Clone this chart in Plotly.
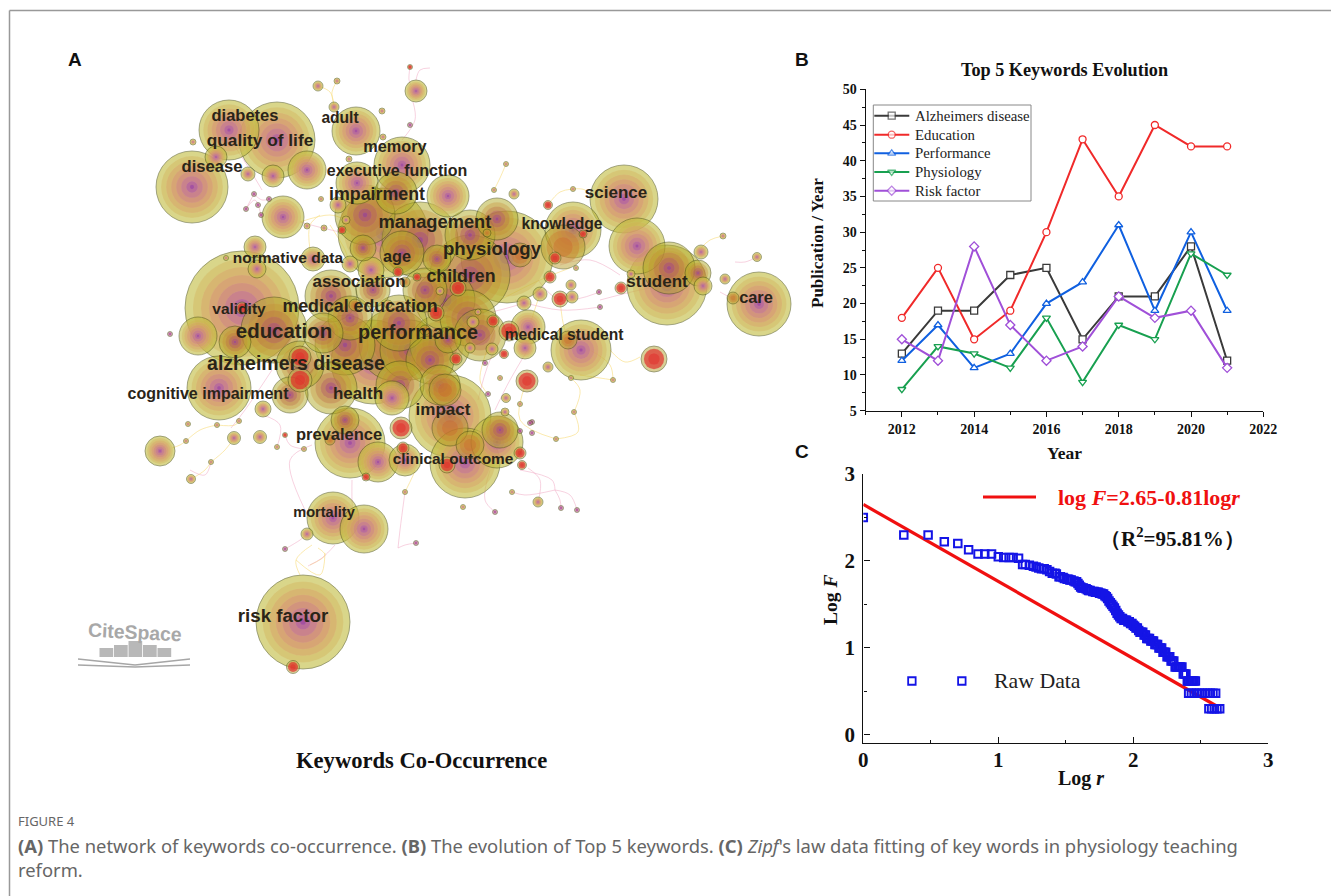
import numpy as np
import plotly.graph_objects as go

W, H = 1331, 896
SERIF = "Liberation Serif"
SANS = "Liberation Sans"

# ---------- Panel B data ----------
years = [2012, 2013, 2014, 2015, 2016, 2017, 2018, 2019, 2020, 2021]
alzheimers = [13, 19, 19, 24, 25, 15, 21, 21, 28, 12]
education = [18, 25, 15, 19, 30, 43, 35, 45, 42, 42]
performance = [12, 17, 11, 13, 20, 23, 31, 19, 30, 19]
physiology = [8, 14, 13, 11, 18, 9, 17, 15, 27, 24]
risk_factor = [15, 12, 28, 17, 12, 14, 21, 18, 19, 11]

# ---------- Panel C data ----------
log_r = [0, 0.30, 0.48, 0.60, 0.70, 0.78, 0.85, 0.90, 0.95, 1.00, 1.04, 1.08, 1.11, 1.15, 1.18, 1.20, 1.23,
         1.26, 1.28, 1.30, 1.32, 1.34, 1.36, 1.38, 1.40, 1.42, 1.43, 1.45, 1.46, 1.48, 1.49, 1.51, 1.52, 1.53,
         1.54, 1.56, 1.57, 1.58, 1.59, 1.60, 1.61, 1.62, 1.63, 1.65, 1.66, 1.67, 1.68, 1.70, 1.71, 1.72, 1.73,
         1.74, 1.75, 1.76, 1.77, 1.78, 1.79, 1.80, 1.81, 1.82, 1.83, 1.84, 1.85, 1.86, 1.87, 1.88, 1.89, 1.90,
         1.91, 1.92, 1.93, 1.94, 1.95, 1.96, 1.97, 1.98, 1.99, 2.00, 2.01, 2.02, 2.03, 2.04, 2.05, 2.06, 2.07,
         2.08, 2.09, 2.10, 2.11, 2.12, 2.13, 2.14, 2.15, 2.16, 2.17, 2.18, 2.19, 2.20, 2.21, 2.22, 2.23, 2.24,
         2.25, 2.26, 2.27, 2.28, 2.29, 2.30, 2.31, 2.32, 2.33, 2.34, 2.35, 2.36, 2.37, 2.38, 2.39, 2.40, 2.41,
         2.42, 2.43, 2.44, 2.45, 2.46, 2.41, 2.43, 2.45, 2.47, 2.49, 2.51, 2.53, 2.55, 2.57, 2.59, 2.61, 2.56,
         2.58, 2.60, 2.62, 2.64]
log_f = [2.50, 2.30, 2.30, 2.22, 2.20, 2.13, 2.08, 2.08, 2.08, 2.05, 2.04, 2.04, 2.04, 2.03, 1.96, 1.96, 1.95,
         1.94, 1.93, 1.92, 1.91, 1.91, 1.90, 1.88, 1.86, 1.86, 1.85, 1.82, 1.82, 1.81, 1.80, 1.79, 1.79, 1.78,
         1.78, 1.77, 1.76, 1.76, 1.74, 1.72, 1.70, 1.69, 1.69, 1.68, 1.67, 1.66, 1.66, 1.65, 1.65, 1.64, 1.64,
         1.64, 1.63, 1.63, 1.62, 1.62, 1.60, 1.59, 1.57, 1.54, 1.52, 1.50, 1.48, 1.46, 1.43, 1.40, 1.38, 1.36,
         1.34, 1.34, 1.32, 1.32, 1.32, 1.30, 1.30, 1.28, 1.28, 1.26, 1.25, 1.23, 1.23, 1.20, 1.18, 1.18, 1.18,
         1.15, 1.15, 1.11, 1.11, 1.11, 1.08, 1.08, 1.08, 1.04, 1.04, 1.04, 1.00, 1.00, 1.00, 0.95, 0.95, 0.95,
         0.90, 0.90, 0.90, 0.85, 0.85, 0.85, 0.78, 0.78, 0.78, 0.78, 0.78, 0.78, 0.70, 0.70, 0.70, 0.62, 0.62,
         0.62, 0.62, 0.62, 0.62, 0.62, 0.48, 0.48, 0.48, 0.48, 0.48, 0.48, 0.48, 0.48, 0.48, 0.48, 0.48, 0.30,
         0.30, 0.30, 0.30, 0.30]
fit_x = [0, 2.62]
fit_y = [2.65, 0.33]
raw_key_x = [0.36, 0.73]
raw_key_y = [0.62, 0.62]

# ---------- Panel A data: keyword network ----------
olive_nodes = [
    (242, 308, 57), (303, 622, 47), (507, 257, 46), (383, 233, 45), (450, 416, 41), (667, 285, 40), (373, 362, 42),
    (192, 187, 36), (277, 140, 38), (350, 443, 35), (465, 463, 35), (624, 199, 34), (759, 304, 32), (219, 388, 32),
    (581, 350, 30), (402, 165, 28), (637, 246, 28), (573, 230, 28), (229, 130, 30), (356, 131, 24), (364, 529, 24),
    (333, 518, 26), (283, 217, 21), (357, 183, 21), (448, 196, 21), (497, 442, 26), (528, 327, 17), (392, 398, 17),
    (378, 462, 20), (405, 460, 16), (307, 170, 19), (198, 336, 19), (160, 451, 15), (313, 259, 12), (371, 270, 13),
    (255, 247, 11), (416, 91, 11), (525, 348, 11), (273, 176, 11), (216, 157, 11), (257, 269, 9),
    (703, 286, 9), (338, 205, 8), (350, 264, 8), (263, 409, 8), (701, 252, 7), (248, 174, 7), (540, 294, 7),
    (524, 303, 7), (234, 438, 6.5), (260, 437, 6.5), (473, 322, 6), (492, 349, 6), (307, 534, 6), (572, 297, 6),
    (571, 285, 5), (548, 367, 5), (514, 194, 5), (334, 107, 5), (318, 86, 5), (725, 279, 5), (757, 257, 4.5),
    (191, 479, 4.5), (506, 398, 4.5), (346, 220, 4), (505, 412, 4), (631, 274, 4),
    (337, 81, 3), (382, 111, 3), (383, 137, 3), (349, 159, 3), (193, 142, 3), (307, 226, 3), (324, 228, 3),
    (723, 236, 3), (494, 190, 2.5), (506, 164, 2.5), (573, 189, 2.5), (576, 268, 2.5), (321, 199, 2.5),
    (188, 424, 2.5), (186, 441, 2.5), (217, 425, 2.5), (239, 421, 2.5), (211, 462, 2.5), (277, 447, 2.5),
    (304, 449, 2.5), (405, 492, 2.5), (463, 507, 2.5), (512, 492, 2.5), (538, 502, 5), (574, 412, 2.5),
    (556, 439, 2.5), (613, 380, 2.5), (571, 378, 2.5), (500, 378, 2.5), (520, 404, 2.5), (226, 258, 2.5),
    (470, 348, 5), (478, 312, 3), (440, 291, 4), (388, 304, 4),
]
brown_nodes = [
    (274, 330, 33), (470, 275, 40), (331, 296, 26), (399, 323, 28), (331, 388, 26), (323, 333, 20), (300, 365, 24),
    (396, 193, 21), (497, 219, 21), (669, 268, 26), (373, 290, 17), (402, 253, 22), (290, 395, 18), (437, 259, 14),
    (448, 340, 13), (500, 430, 18), (235, 342, 16), (698, 273, 13), (363, 248, 13), (430, 360, 24), (410, 350, 30),
    (480, 335, 26), (345, 420, 14), (440, 385, 20), (395, 345, 36), (440, 345, 30), (468, 318, 28), (345, 345, 30),
    (400, 385, 24), (445, 300, 30), (420, 240, 38), (470, 235, 25), (365, 215, 30), (425, 290, 22), (350, 318, 22),
]
hot_nodes = [
    (563, 247, 22), (568, 340, 9), (733, 298, 6), (330, 440, 5), (445, 390, 16), (450, 428, 18), (470, 445, 14),
    (520, 255, 12), (405, 282, 5), (487, 233, 4), (355, 305, 6), (425, 330, 5),
]
red_nodes = [
    (654, 359, 13), (527, 381, 11), (509, 331, 10), (401, 428, 11), (300, 380, 12), (458, 288, 8), (436, 313, 8),
    (447, 465, 8), (560, 299, 8), (293, 667, 6.5), (300, 357, 11), (242, 308, 6), (520, 453, 6), (403, 448, 6),
    (555, 258, 6), (550, 277, 6), (621, 288, 6), (456, 359, 6), (493, 321, 6), (522, 465, 4.5), (548, 205, 4.5),
    (504, 354, 4.5), (366, 477, 4), (342, 230, 4), (417, 277, 4), (398, 272, 5), (285, 435, 2.5), (410, 67, 2.5),
    (583, 234, 4),
]
magenta_nodes = [
    (600, 307, 2.5), (599, 292, 2.5), (485, 363, 2.5), (488, 394, 2.5), (532, 422, 2.5), (532, 433, 2.5),
    (495, 512, 2.5), (561, 508, 2.5), (577, 510, 2.5), (285, 549, 2.5), (416, 543, 2.5), (410, 125, 2.5),
    (254, 194, 2.5), (269, 199, 2.5), (246, 209, 2.5), (258, 205, 2.5), (261, 215, 2.5), (170, 334, 2.5),
    (520, 431, 2.5), (530, 423, 2.5),
]
pink_links = [
    (300, 222, 340, 232, 390, 240), (232, 142, 250, 170, 262, 190), (440, 322, 500, 310, 524, 303),
    (600, 300, 640, 290, 668, 285), (735, 262, 745, 262, 757, 257), (720, 292, 735, 300, 745, 305),
    (335, 545, 322, 558, 308, 566), (307, 534, 300, 540, 285, 549), (310, 520, 290, 460, 312, 445),
    (352, 480, 352, 500, 353, 520), (405, 492, 400, 530, 398, 548), (398, 548, 405, 545, 416, 543),
    (520, 470, 552, 480, 555, 490), (555, 490, 525, 495, 512, 492), (555, 490, 560, 500, 561, 508),
    (555, 490, 570, 495, 577, 510), (490, 470, 485, 500, 495, 512), (528, 468, 540, 480, 538, 502),
    (510, 325, 490, 360, 478, 400), (540, 330, 510, 380, 495, 410), (272, 370, 245, 410, 231, 428),
    (263, 415, 280, 425, 277, 447), (285, 435, 290, 445, 304, 449), (190, 470, 205, 475, 211, 462),
    (410, 67, 409, 80, 411, 85), (416, 80, 420, 70, 430, 68), (413, 102, 415, 120, 402, 140),
    (254, 194, 262, 200, 269, 199), (254, 194, 248, 205, 246, 209), (246, 209, 255, 200, 261, 215),
    (538, 280, 560, 300, 600, 292), (560, 265, 590, 260, 620, 275), (515, 300, 560, 310, 600, 307),
]
yellow_links = [
    (318, 86, 330, 92, 334, 105), (337, 81, 332, 92, 334, 105), (506, 164, 500, 178, 494, 190),
    (548, 205, 560, 192, 573, 189), (573, 189, 585, 190, 592, 200), (723, 236, 710, 240, 701, 248),
    (527, 381, 520, 420, 556, 439), (556, 439, 578, 432, 574, 412), (574, 412, 580, 390, 571, 378),
    (580, 375, 600, 378, 613, 380), (640, 357, 625, 362, 610, 350), (495, 330, 480, 380, 488, 394),
    (300, 575, 296, 560, 312, 545), (296, 560, 320, 575, 325, 553), (310, 565, 325, 555, 318, 548),
    (186, 441, 200, 430, 217, 425), (211, 462, 225, 450, 234, 438), (191, 479, 205, 470, 211, 462),
    (172, 448, 180, 445, 186, 441), (217, 425, 235, 425, 239, 421), (405, 492, 415, 470, 410, 475),
    (300, 222, 330, 215, 346, 220), (310, 250, 310, 225, 320, 215), (330, 225, 345, 250, 350, 265),
    (540, 294, 530, 325, 525, 348), (560, 299, 565, 330, 572, 340), (500, 300, 540, 280, 570, 268),
    (590, 350, 610, 365, 613, 380),
]

# ---------- Text data ----------
keyword_labels = ["diabetes", "quality of life", "disease", "adult", "memory", "executive function", "impairment",
                  "management", "physiology", "knowledge", "science", "normative data", "age", "children",
                  "association", "student", "care", "validity", "medical education", "education", "performance",
                  "medical student", "alzheimers disease", "cognitive impairment", "health", "impact", "prevalence",
                  "clinical outcome", "mortality", "risk factor"]
label_x = [245, 260, 212, 340, 395, 397, 377, 435, 492, 562, 616, 288, 397, 461, 359, 657, 756, 239, 360, 284, 418,
           564, 296, 208, 358, 443, 339, 453, 324, 283]
label_y = [117, 142, 168, 119, 148, 172, 196, 223, 250, 225, 194, 259, 258, 278, 283, 283, 299, 310, 308, 333, 334,
           336, 365, 395, 395, 411, 436, 460, 513, 617]
label_size = [16.5, 17.3, 16.6, 15.6, 16.3, 16, 17.8, 18.3, 18.6, 15.7, 17, 15.5, 16.3, 17.8, 16.9, 17, 16.4, 15.5,
              17.8, 20.4, 19.8, 15.6, 19.5, 16, 17, 17, 16.5, 15.4, 14.6, 18.7]

RINGS_OLIVE = [(1.00, "rgba(192,188,62,0.86)"), (0.86, "rgba(212,176,88,0.55)"), (0.72, "rgba(218,156,105,0.55)"),
               (0.58, "rgba(216,140,122,0.55)"), (0.44, "rgba(204,122,140,0.55)"), (0.30, "rgba(188,102,165,0.55)"),
               (0.16, "rgba(165,80,175,0.60)"), (0.06, "rgba(150,65,165,0.85)")]
RINGS_BROWN = [(1.00, "rgba(178,170,40,0.72)"), (0.80, "rgba(198,140,50,0.48)"), (0.60, "rgba(190,110,70,0.52)"),
               (0.40, "rgba(178,85,105,0.55)"), (0.22, "rgba(165,68,140,0.60)"), (0.08, "rgba(145,60,160,0.75)")]
RINGS_HOT = [(1.00, "rgba(185,160,45,0.72)"), (0.75, "rgba(205,120,45,0.55)"), (0.45, "rgba(205,100,45,0.50)")]
RINGS_RED = [(1.00, "rgba(190,175,80,0.85)"), (0.78, "rgba(226,36,36,0.92)"), (0.45, "rgba(228,44,44,0.70)")]
RINGS_MAG = [(1.00, "rgba(190,120,140,0.90)"), (0.55, "rgba(170,60,150,0.90)")]

nodes = ([(*n, RINGS_OLIVE) for n in olive_nodes] + [(*n, RINGS_BROWN) for n in brown_nodes] +
         [(*n, RINGS_HOT) for n in hot_nodes] + [(*n, RINGS_RED) for n in red_nodes] +
         [(*n, RINGS_MAG) for n in magenta_nodes])
nodes.sort(key=lambda n: -n[2])
nx, ny, ns, nc, nl = [], [], [], [], []
for x, y, r, rings in nodes:
    for i, (frac, col) in enumerate(rings):
        if 2 * r * frac < 1.2:
            continue
        nx.append(x); ny.append(y); ns.append(2 * r * frac); nc.append(col)
        nl.append("rgba(70,75,20,0.85)" if i == 0 else "rgba(255,255,255,0.06)")


def link_xy(links):
    xs, ys = [], []
    for x0, y0, xm, ym, x1, y1 in links:
        xs += [x0, xm, x1, None]
        ys += [y0, ym, y1, None]
    return xs, ys


fig = go.Figure()

# Panel A traces
for links, col in ((yellow_links, "rgba(248,222,130,0.8)"), (pink_links, "rgba(238,160,190,0.6)")):
    lx, ly = link_xy(links)
    fig.add_trace(go.Scatter(x=lx, y=ly, mode="lines", line=dict(color=col, width=0.8, shape="spline", smoothing=1),
                             hoverinfo="skip", showlegend=False, xaxis="x", yaxis="y"))
fig.add_trace(go.Scatter(x=nx, y=ny, mode="markers", hoverinfo="skip", showlegend=False, xaxis="x", yaxis="y",
                         marker=dict(size=ns, sizemode="diameter", color=nc, line=dict(color=nl, width=0.8))))
fig.add_trace(go.Scatter(x=label_x, y=label_y, mode="text", text=keyword_labels, hoverinfo="skip", showlegend=False,
                         xaxis="x", yaxis="y", textposition="middle center",
                         textfont=dict(family=SANS, size=label_size, color="#2a2418", weight=600)))

# Panel B traces and their key
series = [("Alzheimers disease", alzheimers, "#3a3a3a", "square"), ("Education", education, "#f02a2a", "circle"),
          ("Performance", performance, "#1060e0", "triangle-up"), ("Physiology", physiology, "#18a050", "triangle-down"),
          ("Risk factor", risk_factor, "#a050d8", "diamond")]
key_rows = [115.7, 134.7, 153.3, 172, 190.7]
key_annotations = []
for (name, vals, col, sym), row in zip(series, key_rows):
    fig.add_trace(go.Scatter(x=years, y=vals, name=name, mode="lines+markers", xaxis="x2", yaxis="y2", showlegend=False,
                             line=dict(color=col, width=2),
                             marker=dict(symbol=sym, size=7, color="white", line=dict(color=col, width=1.3))))
    fig.add_trace(go.Scatter(x=[874.3, 891.7, 909.3], y=[row, row, row], mode="lines+markers", xaxis="x", yaxis="y",
                             showlegend=False, hoverinfo="skip", line=dict(color=col, width=2),
                             marker=dict(symbol=sym, size=[0, 7, 0], color="white", line=dict(color=col, width=1.3))))
    key_annotations.append(dict(xref="paper", yref="paper", x=912.5 / W, y=1 - row / H, text=name, showarrow=False,
                                xanchor="left", yanchor="middle",
                                font=dict(family=SERIF, size=14.8, color="#222")))

# Panel C traces
fig.add_trace(go.Scatter(x=fit_x, y=fit_y, mode="lines", line=dict(color="#f01010", width=3.2), showlegend=False,
                         xaxis="x3", yaxis="y3", name="log F=2.65-0.81logr"))
fig.add_trace(go.Scatter(x=log_r, y=log_f, mode="markers", showlegend=False, xaxis="x3", yaxis="y3", name="Raw Data",
                         marker=dict(symbol="square", size=7.5, color="rgba(255,255,255,0)",
                                     line=dict(color="#1414e6", width=2))))
fig.add_trace(go.Scatter(x=raw_key_x, y=raw_key_y, mode="markers", showlegend=False, xaxis="x3", yaxis="y3",
                         marker=dict(symbol="square", size=7.5, color="rgba(255,255,255,0)",
                                     line=dict(color="#1414e6", width=1.8))))

xb0, xb1, yb0, yb1 = 865.7, 1263.3, 89.3, 410.7
xc0, xc1, yc0, yc1 = 863.3, 1268.3, 474.0, 743.3


def tick_axis(size, ticks, **kw):
    return dict(showgrid=False, zeroline=False, showline=True, linecolor="#111", linewidth=1.4, ticks=ticks,
                tickcolor="#111", tickwidth=1.2, tickfont=dict(family=SERIF, size=size, color="#111", weight="bold"), **kw)


def ann(x, y, text, size, family=SERIF, color="#111", weight="bold", xanchor="center", **kw):
    return dict(xref="paper", yref="paper", x=x / W, y=1 - y / H, text=text, showarrow=False, xanchor=xanchor,
                yanchor="middle", font=dict(family=family, size=size, color=color, weight=weight), **kw)


annotations = key_annotations + [
    ann(75, 59, "A", 19, SANS), ann(802, 59, "B", 19, SANS), ann(802, 451, "C", 19, SANS),
    ann(421, 760, "Keywords Co-Occurrence", 22.6),
    ann(135, 632, "CiteSpace", 19.4, SANS, "#a8a8a8", textangle=3),
    ann(1064, 70, "Top 5 Keywords Evolution", 18.2),
    ann(1064, 453, "Year", 17.5),
    ann(817, 243, "Publication / Year", 17, textangle=-90),
    ann(830, 600, "Log <i>F</i>", 19.5, textangle=-90),
    ann(1081, 778, "Log <i>r</i>", 20),
    ann(1056, 497, "log <i>F</i>=2.65-0.81log<i>r</i>", 22, color="#f01010", xanchor="left"),
    ann(1172, 537, "（R<sup>2</sup>=95.81%）", 21),
    ann(992, 681, "Raw Data", 21.8, weight="normal", color="#222", xanchor="left"),
    ann(16, 821, "FIGURE 4", 13, "Noto Sans", "#666", "normal", xanchor="left"),
    ann(16, 845, "<b>(A)</b> The network of keywords co-occurrence. <b>(B)</b> The evolution of Top 5 keywords. "
                 "<b>(C)</b> <i>Zipf</i>'s law data fitting of key words in physiology teaching",
        18.4, "Noto Sans", "#666", "normal", xanchor="left"),
    ann(16, 869, "reform.", 18.4, "Noto Sans", "#666", "normal", xanchor="left"),
]

GRAY = "#a6a6a6"
logo_bars = [(99.5, 114, 648), (114, 128.5, 645), (128.5, 143, 641), (143, 157.5, 645), (157.5, 172, 648)]
shapes = [
    dict(type="line", xref="paper", yref="paper", x0=9.5 / W, x1=1, y0=1 - 10.5 / H, y1=1 - 10.5 / H,
         line=dict(color="#999", width=1.5)),
    dict(type="line", xref="paper", yref="paper", x0=9.5 / W, x1=9.5 / W, y0=1 - 10.5 / H, y1=0,
         line=dict(color="#999", width=1.5)),
    dict(type="line", xref="paper", yref="paper", x0=983 / W, x1=1036 / W, y0=1 - 497 / H, y1=1 - 497 / H,
         line=dict(color="#f01010", width=3.2)),
    dict(type="rect", xref="paper", yref="paper", x0=873.3 / W, x1=1031 / W, y0=1 - 201 / H, y1=1 - 105 / H,
         line=dict(color="#888", width=1)),
]
for x0, x1, top in logo_bars:
    shapes.append(dict(type="rect", xref="x", yref="y", x0=x0, x1=x1 - 0.8, y0=top, y1=657,
                       fillcolor=GRAY, line=dict(width=0), opacity=0.8))
for yl, ym in ((659, 665), (665, 667)):
    shapes.append(dict(type="line", xref="x", yref="y", x0=78, x1=135, y0=yl, y1=ym, line=dict(color=GRAY, width=1.6)))
    shapes.append(dict(type="line", xref="x", yref="y", x0=135, x1=190, y0=ym, y1=yl, line=dict(color=GRAY, width=1.6)))

fig.update_layout(
    width=W, height=H, margin=dict(l=0, r=0, t=0, b=0, autoexpand=False), paper_bgcolor="white",
    plot_bgcolor="rgba(0,0,0,0)", showlegend=False,
    xaxis=dict(domain=[0, 1], range=[0, W], visible=False, fixedrange=True),
    yaxis=dict(domain=[0, 1], range=[H, 0], visible=False, fixedrange=True),
    xaxis2=tick_axis(14, "outside", domain=[xb0 / W, xb1 / W], range=[2011, 2022], anchor="y2",
                     tickvals=[2012, 2014, 2016, 2018, 2020, 2022], ticklen=5,
                     minor=dict(tickvals=[2011, 2013, 2015, 2017, 2019, 2021], ticklen=3, ticks="outside", tickcolor="#111")),
    yaxis2=tick_axis(14, "outside", domain=[1 - yb1 / H, 1 - yb0 / H], range=[5, 50], anchor="x2",
                     tickvals=list(range(5, 51, 5)), ticklen=5,
                     minor=dict(tickvals=[float(v) for v in np.arange(7.5, 50, 5)], ticklen=3, ticks="outside", tickcolor="#111")),
    xaxis3=tick_axis(21, "inside", domain=[xc0 / W, xc1 / W], range=[0, 3], anchor="y3", tickvals=[0, 1, 2, 3], ticklen=6,
                     ticklabelstandoff=-3,
                     minor=dict(tickvals=[0.5, 1.5, 2.5], ticklen=3, ticks="inside", tickcolor="#111")),
    yaxis3=tick_axis(21, "inside", domain=[1 - yc1 / H, 1 - yc0 / H], range=[-0.096, 3], anchor="x3", tickvals=[0, 1, 2, 3],
                     ticklen=6, ticklabelstandoff=3,
                     minor=dict(tickvals=[0.5, 1.5, 2.5], ticklen=3, ticks="inside", tickcolor="#111")),
    annotations=annotations, shapes=shapes,
)

fig.write_html("out.html", config=dict(displayModeBar=False),
               post_script="document.body.style.margin='0';document.body.style.overflow='hidden';")
